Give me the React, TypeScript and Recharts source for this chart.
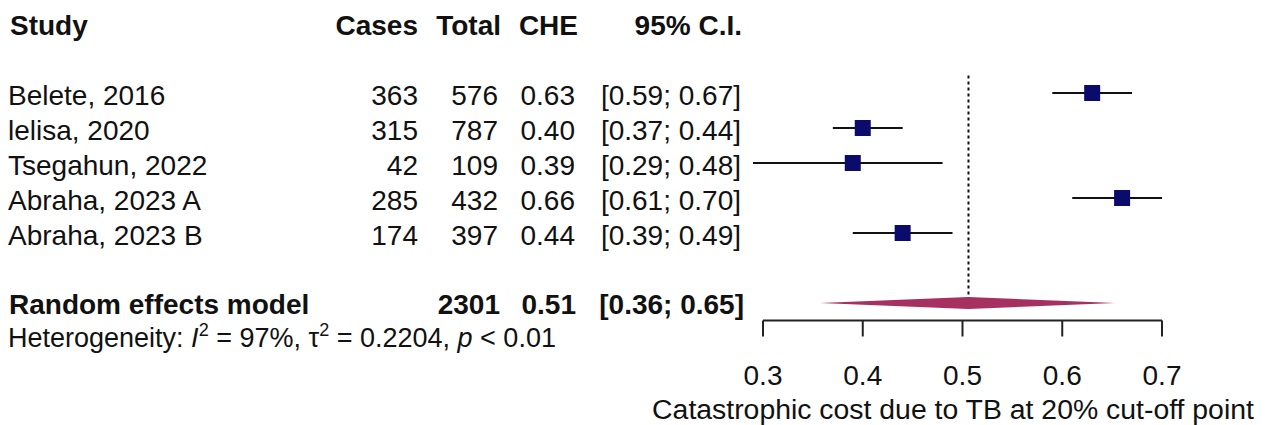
import React from "react";
import {
  ComposedChart,
  Scatter,
  XAxis,
  YAxis,
  ErrorBar,
  ReferenceLine,
  Customized
} from "recharts";

// study rows
const studies = ["Belete, 2016", "lelisa, 2020", "Tsegahun, 2022", "Abraha, 2023 A", "Abraha, 2023 B"];
const cases = [363, 315, 42, 285, 174];
const totals = [576, 787, 109, 432, 397];
const che = [0.63, 0.4, 0.39, 0.66, 0.44];
const ciLow = [0.59, 0.37, 0.29, 0.61, 0.39];
const ciHigh = [0.67, 0.44, 0.48, 0.7, 0.49];

// random effects pooled estimate
const pooledEst = 0.506;
const pooledLow = 0.357;
const pooledHigh = 0.653;
const i2 = 97;
const tau2 = 0.2204;

const xTicks = [0.3, 0.4, 0.5, 0.6, 0.7];
const xTitle = "Catastrophic cost due to TB at 20% cut-off point";

const FONT = "'Liberation Sans', Arial, sans-serif";
const INK = "#111";
const NAVY = "#0b0b6b";
const WINE = "#a63060";

const POOLED_ROW = 7;
const AXIS_ROW = 7.5;

const ci = (lo: number, hi: number) => `[${lo.toFixed(2)}; ${hi.toFixed(2)}]`;

const rows = studies.map((name, i) => ({
  name,
  x: che[i],
  y: i + 1,
  err: [che[i] - ciLow[i], ciHigh[i] - che[i]],
  cases: cases[i],
  total: totals[i],
  lo: ciLow[i],
  hi: ciHigh[i]
}));

const half = 0.17;
const diamond = [
  { x: pooledLow, y: POOLED_ROW },
  { x: pooledEst, y: POOLED_ROW - half },
  { x: pooledHigh, y: POOLED_ROW },
  { x: pooledEst, y: POOLED_ROW + half }
];

const txt = { fontFamily: FONT, fontSize: 28, fill: INK } as const;

const StudyShape = (p: any) => {
  const { cx, cy, payload } = p;
  const base = cy + 12;
  return (
    <g>
      <rect x={cx - 8} y={cy - 8} width={16} height={16} fill={NAVY} />
      <text {...txt} x={8} y={base}>{payload.name}</text>
      <text {...txt} x={418} y={base} textAnchor="end">{payload.cases}</text>
      <text {...txt} x={498} y={base} textAnchor="end">{payload.total}</text>
      <text {...txt} x={575} y={base} textAnchor="end">{payload.x.toFixed(2)}</text>
      <text {...txt} x={741} y={base} textAnchor="end">{ci(payload.lo, payload.hi)}</text>
    </g>
  );
};

const DiamondLine = (p: any) => {
  const pts = p.points || [];
  if (!pts.length) return <g />;
  const d = pts.map((q: any, i: number) => `${i ? "L" : "M"}${q.x},${q.y}`).join(" ") + " Z";
  return <path d={d} fill={WINE} stroke="none" />;
};

const Tick = (p: any) => (
  <text {...txt} x={p.x} y={385} textAnchor="middle">
    {Number(p.payload.value).toFixed(1)}
  </text>
);

const Table = () => {
  const bold = { ...txt, fontWeight: 700 };
  const total = totals.reduce((a, b) => a + b, 0);
  return (
    <g>
      <text {...bold} x={10} y={35}>Study</text>
      <text {...bold} x={418} y={35} textAnchor="end">Cases</text>
      <text {...bold} x={501} y={35} textAnchor="end">Total</text>
      <text {...bold} x={578} y={35} textAnchor="end">CHE</text>
      <text {...bold} x={742} y={35} textAnchor="end">95% C.I.</text>

      <text {...bold} x={9} y={314}>Random effects model</text>
      <text {...bold} x={500} y={314} textAnchor="end">{total}</text>
      <text {...bold} x={576} y={314} textAnchor="end">{pooledEst.toFixed(2)}</text>
      <text {...bold} x={744} y={314} textAnchor="end">{ci(pooledLow, pooledHigh)}</text>

      <text {...txt} fontSize={27} x={8} y={347}>
        Heterogeneity: <tspan fontStyle="italic">I</tspan>
        <tspan fontSize={18} dy={-11}>2</tspan>
        <tspan dy={11}> = {i2}%, τ</tspan>
        <tspan fontSize={18} dy={-11}>2</tspan>
        <tspan dy={11}> = {tau2.toFixed(4)}, </tspan>
        <tspan fontStyle="italic">p</tspan>
        <tspan> &lt; 0.01</tspan>
      </text>

      <text {...txt} fontSize={28.4} x={953} y={419} textAnchor="middle">{xTitle}</text>
    </g>
  );
};

export default function App() {
  return (
    <div style={{ position: "absolute", left: 0, top: 0, background: "#fff" }}>
      <ComposedChart
        width={1270}
        height={425}
        margin={{ top: 58, right: 8.25, left: 663.25, bottom: 0 }}
      >
        <XAxis
          type="number"
          dataKey="x"
          domain={[0.2, 0.8]}
          ticks={xTicks}
          interval={0}
          axisLine={false}
          tickSize={16}
          tickLine={{ stroke: "#222", strokeWidth: 2 }}
          tick={<Tick />}
          height={104.5}
        />
        <YAxis type="number" dataKey="y" domain={[0, AXIS_ROW]} reversed hide />
        <ReferenceLine
          segment={[{ x: xTicks[0], y: AXIS_ROW }, { x: xTicks[xTicks.length - 1], y: AXIS_ROW }]}
          stroke="#222"
          strokeWidth={2}
        />
        <ReferenceLine
          segment={[{ x: pooledEst, y: 0.5 }, { x: pooledEst, y: POOLED_ROW - half }]}
          stroke="#111"
          strokeWidth={2}
          strokeDasharray="3 3"
        />
        <Scatter
          data={diamond}
          fill={WINE}
          shape={() => <g />}
          line={DiamondLine}
          isAnimationActive={false}
        />
        <Scatter data={rows} fill={NAVY} shape={StudyShape} isAnimationActive={false}>
          <ErrorBar dataKey="err" direction="x" width={0} stroke="#111" strokeWidth={2} />
        </Scatter>
        <Customized component={Table} />
      </ComposedChart>
    </div>
  );
}
